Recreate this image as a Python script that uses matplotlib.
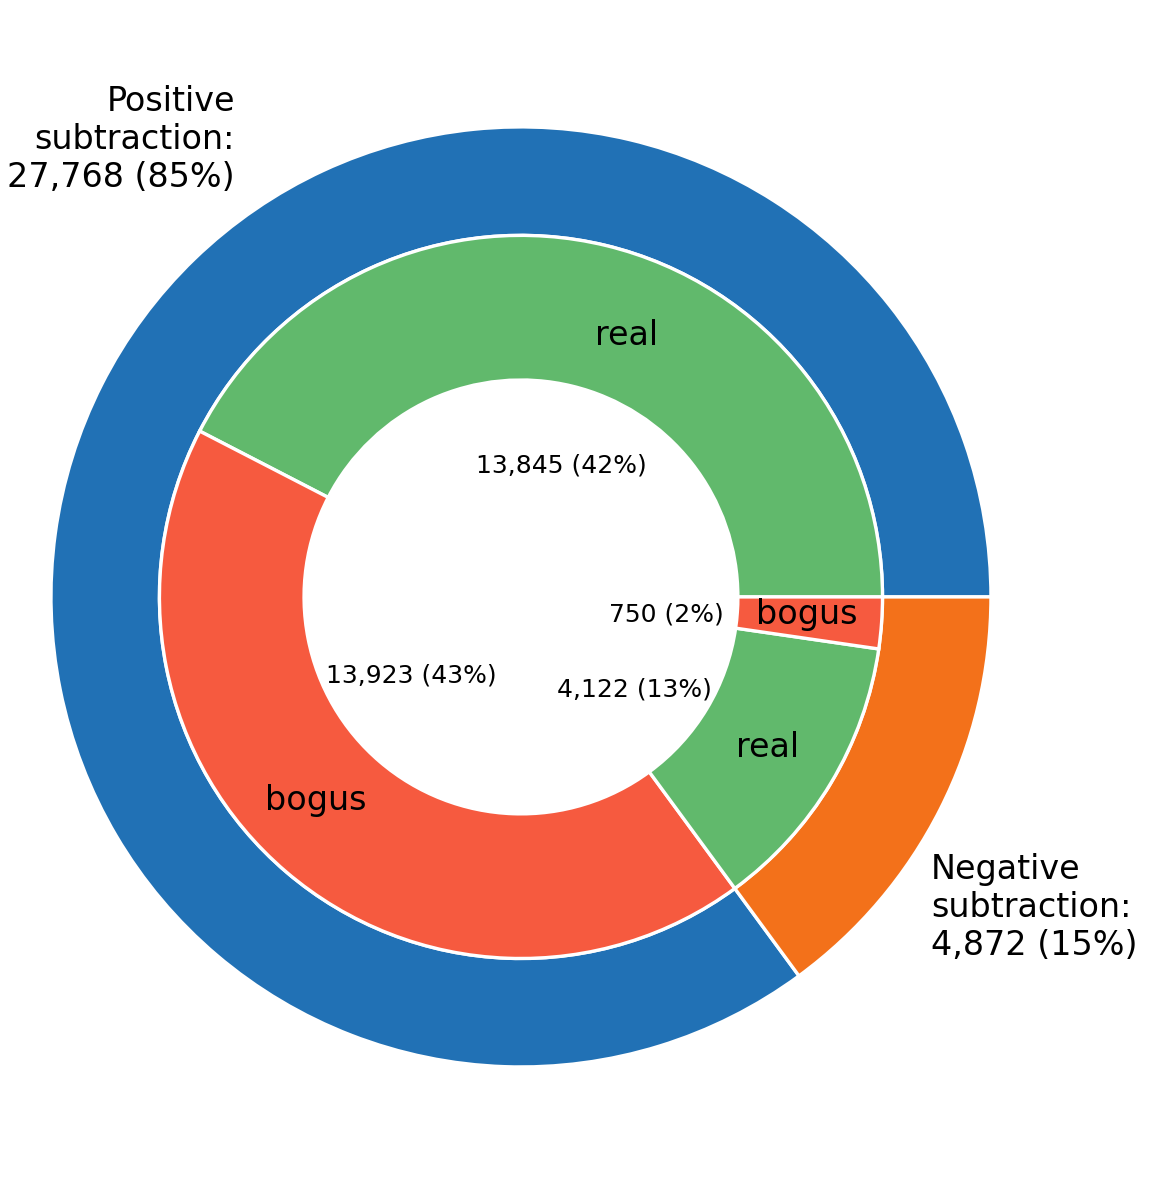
import matplotlib
matplotlib.use('Agg')
import matplotlib.pyplot as plt

# outer ring: subtraction sign
outer_labels = ['Positive\nsubtraction:\n27,768 (85%)', 'Negative\nsubtraction:\n4,872 (15%)']
outer_values = [27768, 4872]
outer_colors = ['#2171b5', '#f3711a']

# inner ring: real / bogus within each sign
inner_labels = ['real', 'bogus', 'real', 'bogus']
inner_values = [13845, 13923, 4122, 750]
inner_pct = ['13,845 (42%)', '13,923 (43%)', '4,122 (13%)', '750 (2%)']
inner_colors = ['#61b96c', '#f65a3f', '#61b96c', '#f65a3f']

fig = plt.figure(figsize=(11.54, 12), dpi=100)
ax = fig.add_axes([0, 0, 1, 1])

wp = dict(edgecolor='white', linewidth=2.4)
ax.pie(outer_values, radius=1.3, startangle=0, counterclock=True,
       colors=outer_colors, wedgeprops=dict(width=0.3, **wp))
ax.pie(inner_values, radius=1.0, startangle=0, counterclock=True,
       colors=inner_colors, wedgeprops=dict(width=0.4, **wp))

# text placement (data units)
dy = -0.007
outer_pos = [(-0.791, 1.272, 'right'), (1.134, -0.852, 'left')]
for lab, (x, y, ha) in zip(outer_labels, outer_pos):
    ax.text(x, y + dy, lab, ha=ha, va='center', fontsize=24)

label_pos = [(0.293, 0.730), (-0.567, -0.556), (0.683, -0.409), (0.791, -0.041)]
for lab, (x, y) in zip(inner_labels, label_pos):
    ax.text(x, y + dy, lab, ha='center', va='center', fontsize=24)

pct_pos = [(0.111, 0.371), (-0.302, -0.210), (0.313, -0.249), (0.401, -0.041)]
for lab, (x, y) in zip(inner_pct, pct_pos):
    ax.text(x, y + dy, lab, ha='center', va='center', fontsize=18)

ax.set_xlim(-1.441, 1.751)
ax.set_ylim(-1.668, 1.651)
ax.set_aspect('auto')
ax.axis('off')

fig.savefig('out.png', dpi=100, facecolor='white')
